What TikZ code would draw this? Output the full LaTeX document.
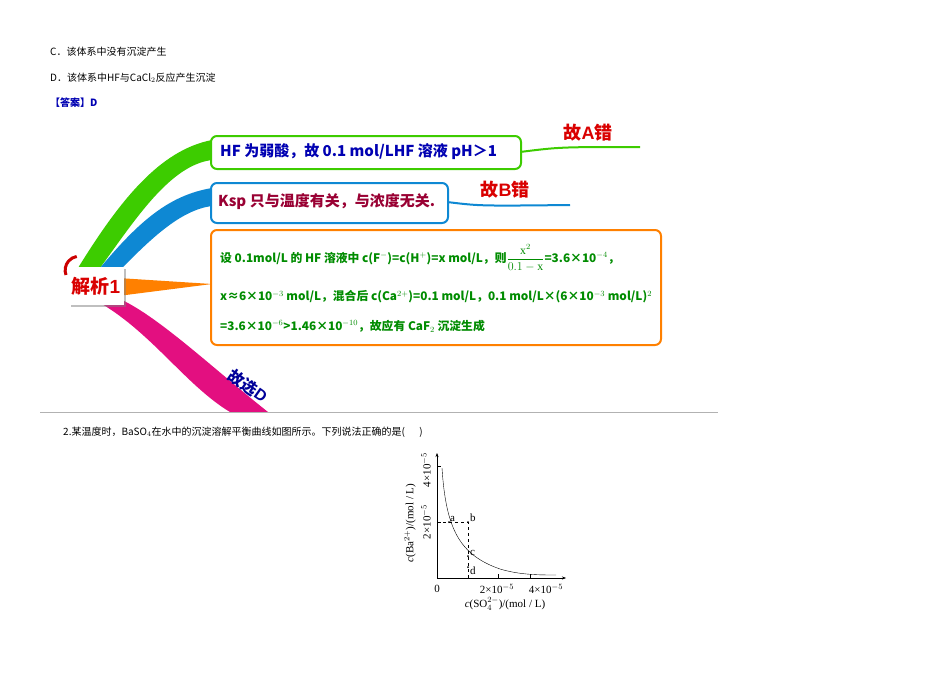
\documentclass[tikz,border=0pt]{standalone}
\usepackage{fontspec}
\usetikzlibrary{arrows.meta,shadows}
\newfontfamily\cjk{Noto Sans CJK SC}
\setmainfont{Liberation Serif}
\setsansfont{Liberation Sans}
\begin{document}
\begin{tikzpicture}[x=1pt,y=-1pt,
 t/.style={anchor=west,inner sep=0pt,font=\cjk\fontsize{10}{12}\selectfont},
 bx/.style={draw,rounded corners=6pt,line width=2pt,fill=white},
 bt/.style={anchor=west,inner sep=0pt,font=\cjk\bfseries\fontsize{15}{17}\selectfont}]
\useasboundingbox (0,0) rectangle (950,672);
\node[t] (c) at (50,52) {C．该体系中没有沉淀产生};
\node[t] (d) at (50,78) {D．该体系中HF与CaCl$_2$反应产生沉淀};
\node[t,text=blue!70!black] (ans) at (50,103) {\textbf{【答案】D}};
% branches
\fill[green!70!yellow!80!black] (78,268) .. controls (120,200) and (160,150) .. (212,140) -- (212,160) .. controls (170,165) and (135,220) .. (100,268) -- cycle;
\fill[cyan!70!blue] (100,268) .. controls (140,220) and (170,195) .. (212,188) -- (212,206) .. controls (180,210) and (150,240) .. (122,268) -- cycle;
\fill[orange] (118,278) -- (212,284) -- (118,296) -- cycle;
\fill[magenta!80!purple] (95,300) .. controls (150,330) and (185,385) .. (230,412) -- (268,412) .. controls (215,370) and (160,318) .. (122,300) -- cycle;
\draw[green!70!yellow!80!black,line width=2pt] (520,152) .. controls (560,147) .. (640,147);
\draw[cyan!70!blue,line width=2pt] (447,202) .. controls (480,206) .. (570,205);
% boxes
\node[bx,draw=green!70!yellow!80!black,minimum width=310pt,minimum height=33pt,anchor=north west] (b1) at (210,135) {};
\node[bt,text=blue!70!black] at (220,152) {HF 为弱酸，故 0.1 mol/LHF 溶液 pH＞1};
\node[bx,draw=cyan!70!blue,minimum width=237pt,minimum height=40pt,anchor=north west] (b2) at (210,182) {};
\node[bt,text=purple!80!black] at (218,202) {Ksp 只与温度有关，与浓度无关.};
\node[bx,draw=orange,minimum width=450pt,minimum height=115pt,anchor=north west] (b3) at (210,229) {};
\begin{scope}[every node/.style={bt,text=green!55!black,font=\cjk\bfseries\fontsize{11.8}{14}\selectfont}]
\node at (220,258) {设 0.1mol/L 的 HF 溶液中 c(F$^-$)=c(H$^+$)=x mol/L，则$\displaystyle\frac{\mathrm{x}^2}{0.1-\mathrm{x}}$=3.6×10$^{-4}$，};
\node at (220,297) {x≈6×10$^{-3}$ mol/L，混合后 c(Ca$^{2+}$)=0.1 mol/L，0.1 mol/L×(6×10$^{-3}$ mol/L)$^2$};
\node at (220,326) {=3.6×10$^{-6}$>1.46×10$^{-10}$，故应有 CaF$_2$ 沉淀生成};
\end{scope}
\node[text=red!85!black,font=\cjk\bfseries\fontsize{18}{20}\selectfont] (ga) at (588,133) {故\textsf{A}错};
\node[text=red!85!black,font=\cjk\bfseries\fontsize{18}{20}\selectfont] (gb) at (505,190) {故\textsf{B}错};
\node[text=blue!60!black,rotate=-35,inner sep=0pt,font=\cjk\bfseries\fontsize{16}{18}\selectfont] (gd) at (248,386) {故选\textsf{D}};
% root
\draw[red!80!black,line width=3pt] (66,275) arc (160:260:14);
\node[fill=white,minimum width=55pt,minimum height=38pt,drop shadow,text=red!85!black,font=\cjk\bfseries\fontsize{19}{21}\selectfont] (root) at (96,286) {解析\textsf{1}};
\draw[gray!60] (40,412) -- (718,412);
\node[t] (q) at (63,432) {2.某温度时，BaSO$_4$在水中的沉淀溶解平衡曲线如图所示。下列说法正确的是(\quad\ \ )};
% graph
\coordinate (o) at (437,578);
\draw[-{Stealth[length=4pt]}] (o) -- (437,453);
\draw[-{Stealth[length=4pt]}] (o) -- (566,578);
\draw (437,466) -- (441,466) (437,522) -- (441,522) (498,578) -- (498,574) (530,578) -- (530,574);
\draw (442,468) .. controls (446,530) and (460,555) .. (500,569) .. controls (520,575) and (540,575) .. (556,575);
\draw[dashed] (437,522) -- (468,522) -- (468,578);
\fill (449,522) circle (1pt) (468,522) circle (1pt) (468,556) circle (1pt) (468,567) circle (1pt);
\begin{scope}[every node/.style={inner sep=1pt,font=\fontsize{11}{12}\selectfont}]
\node[anchor=south west] (pa) at (449,523) {a};
\node[anchor=west] (pb) at (469,518) {b};
\node[anchor=west] (pc) at (469,553) {c};
\node[anchor=west] (pd) at (469,571) {d};
\node at (437,589) {0};
\node at (497,589) {2×10$^{-5}$};
\node at (546,589) {4×10$^{-5}$};
\node[rotate=90] at (426,470) {4×10$^{-5}$};
\node[rotate=90] at (426,522) {2×10$^{-5}$};
\node[rotate=90] at (410,523) {\textit{c}(Ba$^{2+}$)/(mol / L)};
\node at (505,604) {\textit{c}(SO$_4^{2-}$)/(mol / L)};
\end{scope}
\end{tikzpicture}
\end{document}
